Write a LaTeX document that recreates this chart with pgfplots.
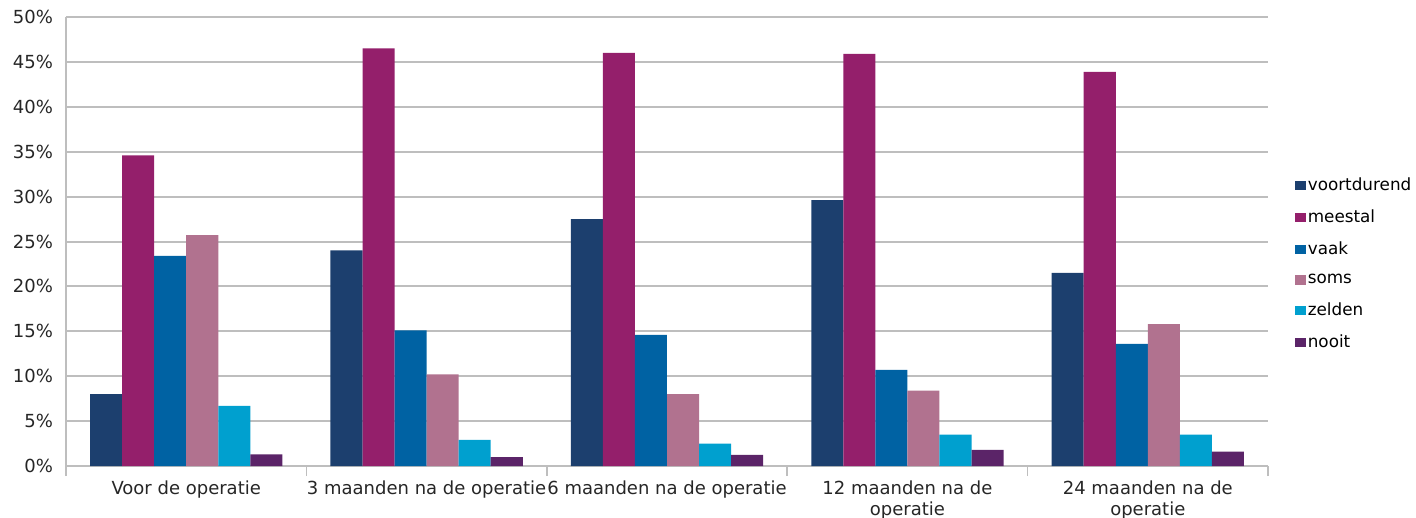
\documentclass[border=0pt]{standalone}
\usepackage{pgfplots}
\pgfplotsset{compat=1.18}
\usepackage{fontspec}
\setmainfont{DejaVu Sans}

\definecolor{cVoort}{RGB}{28,63,110}
\definecolor{cMeest}{RGB}{148,31,107}
\definecolor{cVaak}{RGB}{0,98,163}
\definecolor{cSoms}{RGB}{177,114,143}
\definecolor{cZeld}{RGB}{0,160,207}
\definecolor{cNooit}{RGB}{91,36,104}
\definecolor{cGrid}{RGB}{190,190,190}

\begin{document}
\begin{tikzpicture}
\path[use as bounding box] (-33pt,-26pt) rectangle (675pt,233pt);
\begin{axis}[
  at={(0,0)}, anchor=south west,
  width=601pt, height=224.5pt, scale only axis,
  xmin=-0.5, xmax=4.5,
  ymin=0, ymax=50,
  ytick={0,5,...,50},
  yticklabel={\pgfmathprintnumber{\tick}\%},
  /pgf/number format/assume math mode=true,
  xtick={0,1,2,3,4},
  xticklabels={Voor de operatie, 3 maanden na de operatie, 6 maanden na de operatie, {12 maanden na de\\operatie}, {24 maanden na de\\operatie}},
  minor xtick={-0.5,0.5,1.5,2.5,3.5,4.5},
  major tick length=0pt,
  minor tick length=5pt,
  tick align=outside,
  minor tick style={draw=cGrid, line width=0.8pt},
  ytick style={draw=none},
  axis x line*=bottom, axis y line*=left,
  axis line style={draw=cGrid, line width=1pt, -},
  ymajorgrids, grid style={draw=cGrid, line width=1pt},
  tick label style={font=\fontsize{9}{10.5}\selectfont, text=black!85},
  xticklabel style={align=center, yshift=-4pt},
  yticklabel style={xshift=-3pt},
  ybar, bar width=0.1333,
  legend style={at={(rel axis cs:1,0.45)}, anchor=west, xshift=10.5pt,
    draw=none, fill=none, font=\fontsize{8.4}{10}\selectfont, row sep=4.2pt,
    nodes={inner xsep=1pt}},
  legend cell align=left,
  legend image code/.code={\fill[#1] (0pt,-2.3pt) rectangle (5.2pt,2.3pt);},
]
\addplot[fill=cVoort, draw=none, bar shift=-0.3333] coordinates {(0,8.0) (1,24.0) (2,27.5) (3,29.6) (4,21.5)};
\addplot[fill=cMeest, draw=none, bar shift=-0.2] coordinates {(0,34.6) (1,46.5) (2,46.0) (3,45.9) (4,43.9)};
\addplot[fill=cVaak, draw=none, bar shift=-0.0667] coordinates {(0,23.4) (1,15.1) (2,14.6) (3,10.7) (4,13.6)};
\addplot[fill=cSoms, draw=none, bar shift=0.0667] coordinates {(0,25.7) (1,10.2) (2,8.0) (3,8.4) (4,15.8)};
\addplot[fill=cZeld, draw=none, bar shift=0.2] coordinates {(0,6.7) (1,2.9) (2,2.5) (3,3.5) (4,3.5)};
\addplot[fill=cNooit, draw=none, bar shift=0.3333] coordinates {(0,1.3) (1,1.0) (2,1.25) (3,1.8) (4,1.6)};
\legend{voortdurend, meestal, vaak, soms, zelden, nooit}
\end{axis}
\end{tikzpicture}
\end{document}
